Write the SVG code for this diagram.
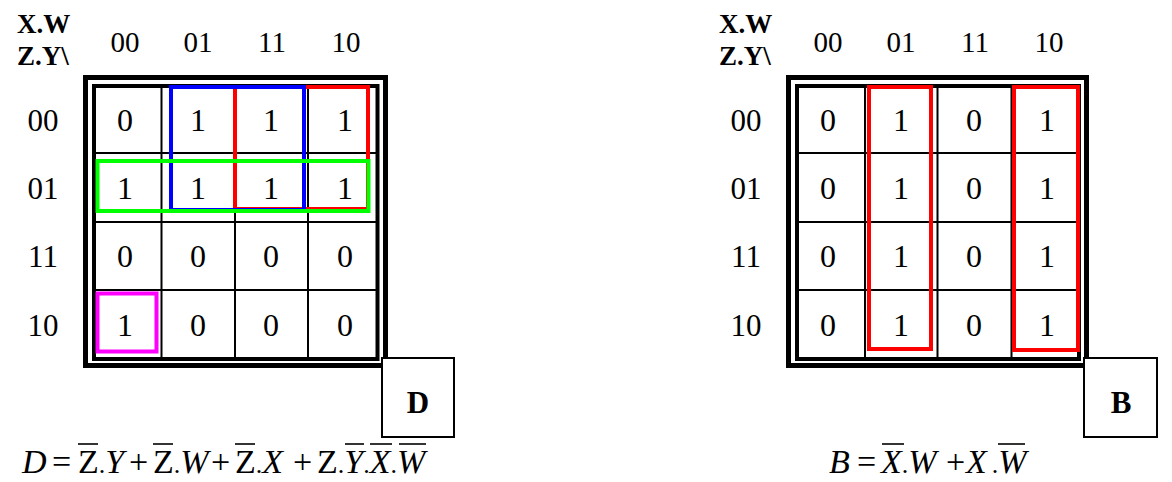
<svg xmlns="http://www.w3.org/2000/svg" width="1172" height="482" viewBox="0 0 1172 482">
<style>
.bg{fill:#fff}
.outer{fill:none;stroke:#000;stroke-width:5}
.inner{fill:none;stroke:#000;stroke-width:4}
.grid{stroke:#000;stroke-width:2}
.box{fill:#fff;stroke:#000;stroke-width:2}
.loop{fill:none;stroke-width:4}
.hdr{font-family:"Liberation Serif",serif;font-size:29px;text-anchor:middle;fill:#000}
.row{font-family:"Liberation Serif",serif;font-size:31px;text-anchor:middle;fill:#000}
.cell{font-family:"Liberation Serif",serif;font-size:32px;text-anchor:middle;fill:#000}
.corner{font-family:"Liberation Serif",serif;font-size:27px;font-weight:bold;fill:#000}
.name{font-family:"Liberation Serif",serif;font-size:31px;font-weight:bold;text-anchor:middle;fill:#000}
.eq{font-family:"Liberation Serif",serif;font-size:34px;fill:#000}
.it{font-style:italic}
.dot{font-size:26px}
.bar{stroke:#000;stroke-width:1.6}
</style>
<rect class="bg" x="0" y="0" width="1172" height="482"/>

<g id="map-D">
  <g id="map-D-labels">
    <text class="corner" x="17" y="33">X.W</text>
    <text class="corner" x="17" y="65">Z.Y\</text>
    <text class="hdr" x="125" y="52">00</text>
    <text class="hdr" x="198" y="52">01</text>
    <text class="hdr" x="272" y="52">11</text>
    <text class="hdr" x="346" y="52">10</text>
    <text class="row" x="43" y="131">00</text>
    <text class="row" x="43" y="199">01</text>
    <text class="row" x="43" y="267">11</text>
    <text class="row" x="43" y="336">10</text>
  </g>
  <g id="map-D-grid">
    <rect class="outer" x="85.5" y="77.5" width="300" height="288"/>
    <rect class="inner" x="94" y="86" width="283.5" height="273"/>
    <line class="grid" x1="161.5" y1="86" x2="161.5" y2="359"/>
    <line class="grid" x1="235" y1="86" x2="235" y2="359"/>
    <line class="grid" x1="308" y1="86" x2="308" y2="359"/>
    <line class="grid" x1="94" y1="153" x2="377.5" y2="153"/>
    <line class="grid" x1="94" y1="222" x2="377.5" y2="222"/>
    <line class="grid" x1="94" y1="290" x2="377.5" y2="290"/>
  </g>
  <g id="map-D-cells">
    <text class="cell" x="125" y="131">0</text>
    <text class="cell" x="198" y="131">1</text>
    <text class="cell" x="271" y="131">1</text>
    <text class="cell" x="345" y="131">1</text>
    <text class="cell" x="125" y="199">1</text>
    <text class="cell" x="198" y="199">1</text>
    <text class="cell" x="271" y="199">1</text>
    <text class="cell" x="345" y="199">1</text>
    <text class="cell" x="125" y="267">0</text>
    <text class="cell" x="198" y="267">0</text>
    <text class="cell" x="271" y="267">0</text>
    <text class="cell" x="345" y="267">0</text>
    <text class="cell" x="125" y="336">1</text>
    <text class="cell" x="198" y="336">0</text>
    <text class="cell" x="271" y="336">0</text>
    <text class="cell" x="345" y="336">0</text>
  </g>
  <g id="map-D-loops">
    <rect class="loop" stroke="#ff0000" x="235" y="87" width="133" height="122"/>
    <rect class="loop" stroke="#0000ff" x="171" y="87" width="133" height="123"/>
    <rect class="loop" stroke="#00ff00" x="97.5" y="161" width="271" height="50"/>
    <rect class="loop" stroke="#ff00ff" x="97.5" y="293.5" width="59" height="58"/>
  </g>
  <g id="box-D">
    <rect class="box" x="382" y="358" width="72" height="79"/>
    <text class="name" x="418" y="413">D</text>
  </g>
</g>

<g id="map-B">
  <g id="map-B-labels">
    <text class="corner" x="719" y="33">X.W</text>
    <text class="corner" x="719" y="65">Z.Y\</text>
    <text class="hdr" x="828" y="52">00</text>
    <text class="hdr" x="901" y="52">01</text>
    <text class="hdr" x="975" y="52">11</text>
    <text class="hdr" x="1049" y="52">10</text>
    <text class="row" x="746" y="131">00</text>
    <text class="row" x="746" y="199">01</text>
    <text class="row" x="746" y="267">11</text>
    <text class="row" x="746" y="336">10</text>
  </g>
  <g id="map-B-grid">
    <rect class="outer" x="788.5" y="77.5" width="298" height="288"/>
    <rect class="inner" x="797" y="86" width="282" height="273"/>
    <line class="grid" x1="865" y1="86" x2="865" y2="359"/>
    <line class="grid" x1="937.5" y1="86" x2="937.5" y2="359"/>
    <line class="grid" x1="1011.5" y1="86" x2="1011.5" y2="359"/>
    <line class="grid" x1="797" y1="153" x2="1079" y2="153"/>
    <line class="grid" x1="797" y1="222" x2="1079" y2="222"/>
    <line class="grid" x1="797" y1="290" x2="1079" y2="290"/>
  </g>
  <g id="map-B-cells">
    <text class="cell" x="828" y="131">0</text>
    <text class="cell" x="901" y="131">1</text>
    <text class="cell" x="974" y="131">0</text>
    <text class="cell" x="1047" y="131">1</text>
    <text class="cell" x="828" y="199">0</text>
    <text class="cell" x="901" y="199">1</text>
    <text class="cell" x="974" y="199">0</text>
    <text class="cell" x="1047" y="199">1</text>
    <text class="cell" x="828" y="267">0</text>
    <text class="cell" x="901" y="267">1</text>
    <text class="cell" x="974" y="267">0</text>
    <text class="cell" x="1047" y="267">1</text>
    <text class="cell" x="828" y="336">0</text>
    <text class="cell" x="901" y="336">1</text>
    <text class="cell" x="974" y="336">0</text>
    <text class="cell" x="1047" y="336">1</text>
  </g>
  <g id="map-B-loops">
    <rect class="loop" stroke="#ff0000" x="869" y="87" width="62" height="262"/>
    <rect class="loop" stroke="#ff0000" x="1014" y="87" width="64" height="263"/>
  </g>
  <g id="box-B">
    <rect class="box" x="1084" y="358" width="73" height="79"/>
    <text class="name" x="1121" y="413">B</text>
  </g>
</g>

<g id="formula-D">
  <text class="eq" y="473"><tspan class="it" x="22">D</tspan><tspan x="52">=</tspan><tspan x="78">Z</tspan><tspan class="dot">.</tspan><tspan class="it">Y</tspan><tspan x="129">+</tspan><tspan x="153">Z</tspan><tspan class="dot">.</tspan><tspan class="it">W</tspan><tspan x="211">+</tspan><tspan x="235">Z</tspan><tspan class="dot">.</tspan><tspan class="it">X</tspan><tspan x="293">+</tspan><tspan x="317">Z</tspan><tspan class="dot">.</tspan><tspan class="it">Y</tspan><tspan class="dot">.</tspan><tspan class="it">X</tspan><tspan class="dot">.</tspan><tspan class="it">W</tspan></text>
  <line class="bar" x1="78" y1="444" x2="98" y2="444"/>
  <line class="bar" x1="153" y1="444" x2="173" y2="444"/>
  <line class="bar" x1="235" y1="444" x2="255" y2="444"/>
  <line class="bar" x1="345" y1="444" x2="364" y2="444"/>
  <line class="bar" x1="370" y1="444" x2="392" y2="444"/>
  <line class="bar" x1="399" y1="444" x2="426" y2="444"/>
</g>

<g id="formula-B">
  <text class="eq" y="473"><tspan class="it" x="829">B</tspan><tspan x="857">=</tspan><tspan class="it" x="881">X</tspan><tspan class="dot">.</tspan><tspan class="it">W</tspan><tspan x="946">+</tspan><tspan class="it" x="966">X</tspan><tspan class="dot" dx="5">.</tspan><tspan class="it">W</tspan></text>
  <line class="bar" x1="882" y1="444" x2="904" y2="444"/>
  <line class="bar" x1="998" y1="444" x2="1025" y2="444"/>
</g>
</svg>
